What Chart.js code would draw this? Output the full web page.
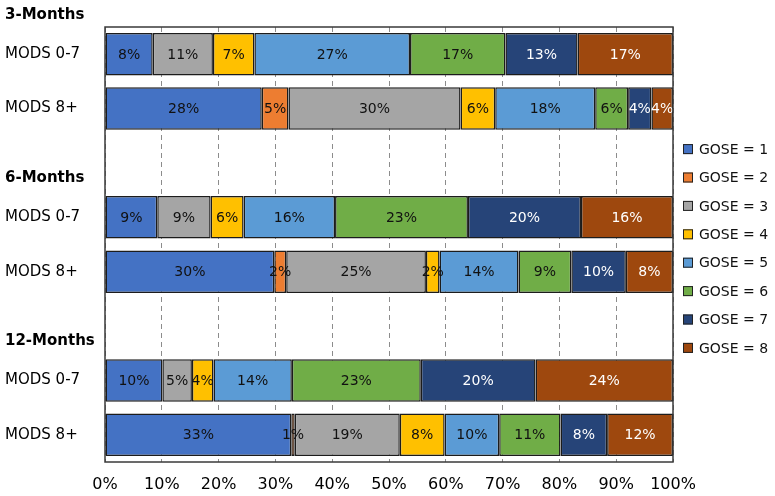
<!DOCTYPE html>
<html>
<head>
<meta charset="utf-8">
<script src="https://cdn.jsdelivr.net/npm/chart.js@4"></script>
<style>
  body { margin: 0; background: #fff; }
  #wrap { width: 775px; height: 496px; position: relative; }
</style>
</head>
<body>
<div id="wrap"><canvas id="grafico"></canvas></div>
<script>
// linhas do grafico (linhas vazias = espaco para o titulo do grupo)
const rowLabels = ['MODS 0-7', 'MODS 8+', '', 'MODS 0-7', 'MODS 8+', '', 'MODS 0-7', 'MODS 8+'];
const groupTitles = ['3-Months', '6-Months', '12-Months'];
const groupFirstRow = [0, 3, 6];

const goseNames = ['GOSE = 1', 'GOSE = 2', 'GOSE = 3', 'GOSE = 4', 'GOSE = 5', 'GOSE = 6', 'GOSE = 7', 'GOSE = 8'];
const goseColors = ['#4472C4', '#ED7D31', '#A5A5A5', '#FFC000', '#5B9BD5', '#70AD47', '#264478', '#9E480E'];

// percentuais por nivel GOSE
const gose1 = [8.4, 27.6, null, 9.2, 29.8, null, 10.1, 32.8];
const gose2 = [0, 4.7, null, 0, 2.1, null, 0, 0.6];
const gose3 = [10.6, 30.3, null, 9.4, 24.6, null, 5.2, 18.5];
const gose4 = [7.3, 6.1, null, 5.8, 2.4, null, 3.8, 7.9];
const gose5 = [27.4, 17.6, null, 16.1, 13.9, null, 13.8, 9.6];
const gose6 = [16.8, 5.8, null, 23.4, 9.3, null, 22.7, 10.8];
const gose7 = [12.7, 4.1, null, 19.9, 9.6, null, 20.2, 8.2];
const gose8 = [16.8, 3.8, null, 16.2, 8.3, null, 24.2, 11.6];

const xTicks = [0, 10, 20, 30, 40, 50, 60, 70, 80, 90, 100];

const goseData = [gose1, gose2, gose3, gose4, gose5, gose6, gose7, gose8];
const whiteText = [6, 7]; // GOSE 7 e 8 com texto branco

Chart.defaults.font.family = "'DejaVu Sans', Verdana, sans-serif";
Chart.defaults.color = '#000';

// rotulos dentro das barras
const rotulosBarras = {
    id: 'rotulosBarras',
    afterDatasetsDraw(chart) {
        const ctx = chart.ctx;
        ctx.save();
        ctx.font = "14px 'DejaVu Sans'";
        ctx.textAlign = 'center';
        ctx.textBaseline = 'middle';
        chart.data.datasets.forEach((ds, i) => {
            const meta = chart.getDatasetMeta(i);
            meta.data.forEach((bar, j) => {
                const v = ds.data[j];
                if (!v) return;
                const p = bar.getProps(['x', 'y', 'base'], true);
                ctx.fillStyle = whiteText.includes(i) ? '#fff' : '#111';
                ctx.fillText(Math.round(v) + '%', (p.x + p.base) / 2, p.y + 1);
            });
        });
        ctx.restore();
    }
};

// moldura da area do grafico + titulos dos grupos + legenda
const moldura = {
    id: 'moldura',
    afterDraw(chart) {
        const { ctx, chartArea: a, scales } = chart;
        ctx.save();
        ctx.strokeStyle = '#3a3a3a';
        ctx.lineWidth = 1.5;
        ctx.strokeRect(a.left, a.top, a.right - a.left, a.bottom - a.top);

        ctx.fillStyle = '#000';
        ctx.font = "bold 15px 'DejaVu Sans'";
        ctx.textAlign = 'left';
        ctx.textBaseline = 'middle';
        groupTitles.forEach((t, k) => {
            const y = scales.y.getPixelForValue(groupFirstRow[k]) - 39;
            ctx.fillText(t, 5, y);
        });

        // legenda
        const passo = 28.4;
        const meio = (a.top + a.bottom) / 2 + 4;
        const y0 = meio - passo * (goseNames.length - 1) / 2;
        const bx = a.right + 10;
        ctx.font = "14px 'DejaVu Sans'";
        goseNames.forEach((nome, i) => {
            const y = y0 + i * passo;
            ctx.fillStyle = goseColors[i];
            ctx.fillRect(bx, y - 5, 10, 10);
            ctx.strokeStyle = '#222';
            ctx.lineWidth = 1;
            ctx.strokeRect(bx + 0.5, y - 4.5, 9, 9);
            ctx.fillStyle = '#111';
            ctx.fillText(nome, bx + 16, y + 1);
        });
        ctx.restore();
    }
};

new Chart(document.getElementById('grafico'), {
    type: 'bar',
    data: {
        labels: rowLabels,
        datasets: goseData.map((d, i) => ({
            label: goseNames[i],
            data: d,
            backgroundColor: goseColors[i],
            borderColor: '#1c1c1c',
            borderWidth: 1.5,
            borderSkipped: false,
            barPercentage: 0.78,
            categoryPercentage: 1
        }))
    },
    options: {
        indexAxis: 'y',
        responsive: true,
        maintainAspectRatio: false,
        animation: false,
        layout: { padding: { top: 27, right: 102, left: 5, bottom: 0 } },
        plugins: {
            legend: { display: false },
            tooltip: { enabled: false }
        },
        scales: {
            x: {
                stacked: true,
                min: 0,
                max: 100,
                afterBuildTicks: (scale) => { scale.ticks = xTicks.map(v => ({ value: v })); },
                afterFit: (scale) => { scale.height = 34; },
                ticks: {
                    padding: 13,
                    font: { size: 16 },
                    color: '#000',
                    callback: (v) => v + '%'
                },
                grid: {
                    color: '#8c8c8c',
                    lineWidth: 1,
                    drawTicks: false
                },
                border: { display: false, dash: [5, 4] }
            },
            y: {
                stacked: true,
                afterFit: (scale) => { scale.width = 100; },
                ticks: {
                    crossAlign: 'far',
                    font: { size: 15 },
                    color: '#000',
                    autoSkip: false
                },
                grid: { display: false },
                border: { display: false }
            }
        }
    },
    plugins: [rotulosBarras, moldura]
});
</script>
</body>
</html>
